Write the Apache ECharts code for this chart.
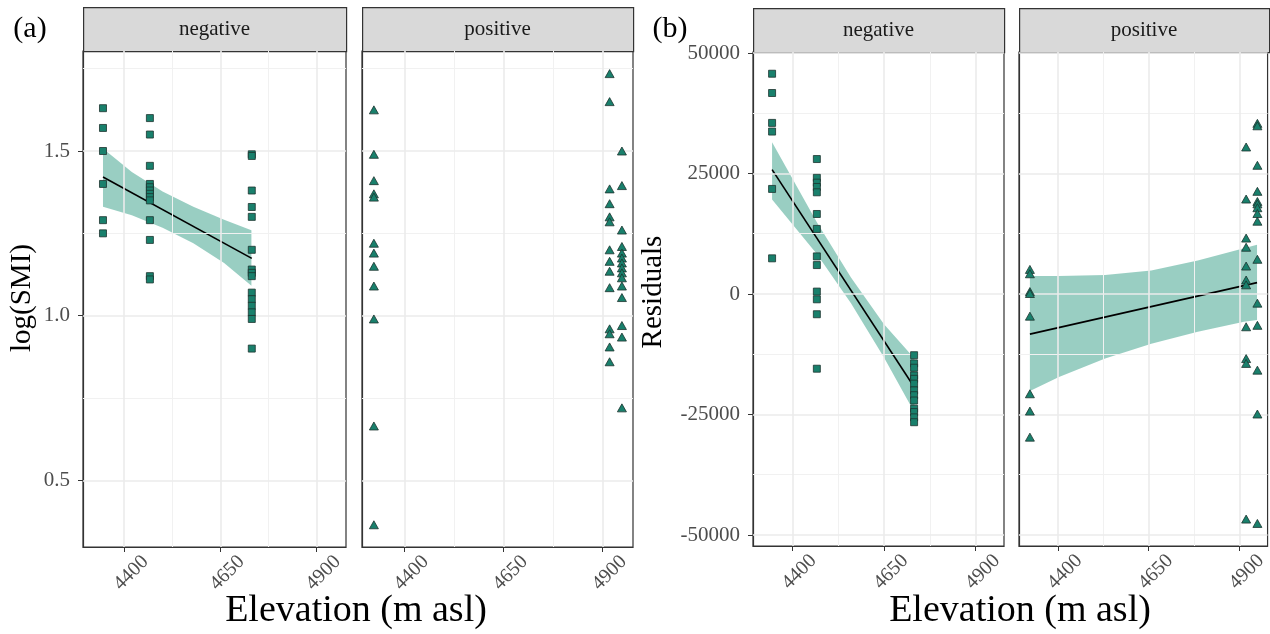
<!DOCTYPE html>
<html>
<head>
<meta charset="utf-8">
<script src="https://cdn.jsdelivr.net/npm/echarts@6/dist/echarts.min.js"></script>
<style>
  html, body { margin: 0; padding: 0; background: #fff; }
  #chart { width: 1270px; height: 634px; }
</style>
</head>
<body>
<div id="chart"></div>
<script>
// axis ticks
const xRange = [4293, 4977];
const xTicks = [4400, 4650, 4900];
const xMinor = [4525, 4775];
const smiRange = [0.2975, 1.8037];
const smiTicks = [0.5, 1.0, 1.5];
const smiMinor = [0.75, 1.25, 1.75];
const resRange = [-52284, 50208];
const resTicks = [-50000, -25000, 0, 25000, 50000];
const resMinor = [-37500, -12500, 12500, 37500];

// elevations of the sites
const negElev = [4345, 4467, 4732];
const posElev = [4323, 4918, 4949];

// (a) log(SMI)
const smiNeg1 = [1.63, 1.57, 1.50, 1.40, 1.29, 1.25];
const smiNeg2 = [1.60, 1.55, 1.455, 1.40, 1.39, 1.38, 1.37, 1.36, 1.35, 1.29, 1.23, 1.12, 1.11];
const smiNeg3 = [1.49, 1.485, 1.38, 1.33, 1.30, 1.20, 1.14, 1.13, 1.12, 1.07, 1.05, 1.03, 1.01, 0.99, 0.90];
const smiPos1 = [1.625, 1.49, 1.41, 1.37, 1.36, 1.22, 1.19, 1.15, 1.09, 0.99, 0.665, 0.365];
const smiPos2 = [1.735, 1.65, 1.385, 1.34, 1.30, 1.285, 1.20, 1.165, 1.135, 1.085, 0.96, 0.945, 0.905, 0.86];
const smiPos3 = [1.50, 1.395, 1.26, 1.21, 1.19, 1.175, 1.16, 1.145, 1.13, 1.115, 1.09, 1.055, 0.97, 0.935, 0.72];

// (a) fit + band (negative only)
const smiFitX = [4345, 4732];
const smiFitY = [1.421, 1.174];
const smiBandX = [4345, 4420, 4500, 4580, 4660, 4731];
const smiBandLo = [1.331, 1.305, 1.267, 1.220, 1.160, 1.091];
const smiBandHi = [1.508, 1.436, 1.377, 1.331, 1.291, 1.259];

// (b) residuals
const resNeg1 = [45700, 41700, 35500, 33700, 21800, 7400];
const resNeg2 = [28000, 24100, 23100, 22200, 21100, 16600, 13500, 7800, 6000, 500, -1100, -4200, -15500];
const resNeg3 = [-12700, -14400, -15300, -16900, -17600, -18600, -20000, -21000, -22100, -23800, -24500, -25600, -26600];
const resPos1 = [5100, 4200, 500, 100, -4600, -20700, -24300, -29700];
const resPos2 = [30500, 19700, 11600, 9700, 5800, 2900, 1900, -6800, -13400, -14400, -46700];
const resPos3 = [35400, 34900, 26700, 21300, 19200, 18700, 17900, 16700, 15100, 7200, -1900, -6500, -15800, -24900, -47600];

// (b) fits + bands
const resNegFitX = [4345, 4733];
const resNegFitY = [25800, -19400];
const resNegBandX = [4345, 4467, 4560, 4650, 4733];
const resNegBandLo = [19600, 8300, -1900, -13200, -24600];
const resNegBandHi = [31500, 14900, 3400, -6300, -13400];
const resPosFitX = [4323, 4948];
const resPosFitY = [-8330, 2360];
const resPosBandX = [4323, 4403, 4530, 4657, 4785, 4912, 4948];
const resPosBandLo = [-20100, -17200, -13400, -10300, -7850, -5760, -5420];
const resPosBandHi = [3750, 3750, 3960, 4860, 6940, 9510, 10200];

const FONT = 'Liberation Serif';
const ptColor = '#19806c';
const ptBorder = '#1d332e';
const bandColor = 'rgba(38,150,125,0.47)';

const panels = [
  { left: 83, top: 51, width: 263, height: 496, y: 'smi' },
  { left: 362, top: 51, width: 271, height: 496, y: 'smi' },
  { left: 753, top: 52, width: 251, height: 494, y: 'res' },
  { left: 1019, top: 52, width: 250, height: 494, y: 'res' }
];
const strips = ['negative', 'positive', 'negative', 'positive'];

function pts(x, ys) { return ys.map(v => [x, v]); }

function scatter(i, data, shape) {
  return {
    type: 'scatter', xAxisIndex: i, yAxisIndex: i, z: 5,
    symbol: shape, symbolSize: shape === 'rect' ? 7 : [9, 8],
    itemStyle: { color: ptColor, borderColor: ptBorder, borderWidth: 0.8, opacity: 1 },
    data: data
  };
}

function band(i, xs, lo, hi) {
  return {
    type: 'custom', xAxisIndex: i, yAxisIndex: i, z: 3, silent: true,
    data: [[xs[0], lo[0]]],
    renderItem: function (params, api) {
      const up = xs.map((x, k) => api.coord([x, hi[k]]));
      const dn = xs.map((x, k) => api.coord([x, lo[k]])).reverse();
      return { type: 'polygon', shape: { points: up.concat(dn) }, style: { fill: bandColor } };
    }
  };
}

function fit(i, xs, ys) {
  return {
    type: 'line', xAxisIndex: i, yAxisIndex: i, z: 4, symbol: 'none',
    lineStyle: { color: '#000', width: 1.6 },
    data: xs.map((x, k) => [x, ys[k]])
  };
}

function gridLines(i, yMajor, yMinor) {
  const major = { color: '#ebebeb', width: 1.6, type: 'solid' };
  const minor = { color: '#f1f1f1', width: 1, type: 'solid' };
  return {
    type: 'scatter', xAxisIndex: i, yAxisIndex: i, z: 1, silent: true, data: [],
    markLine: {
      silent: true, symbol: ['none', 'none'], label: { show: false }, animation: false,
      data: [].concat(
        xMinor.map(v => ({ xAxis: v, lineStyle: minor })),
        yMinor.map(v => ({ yAxis: v, lineStyle: minor })),
        xTicks.map(v => ({ xAxis: v, lineStyle: major })),
        yMajor.map(v => ({ yAxis: v, lineStyle: major }))
      )
    }
  };
}

const grids = panels.map(p => ({
  left: p.left, top: p.top, width: p.width, height: p.height,
  show: true, backgroundColor: '#fff', borderColor: '#333', borderWidth: 1.2
}));

const xAxes = panels.map((p, i) => ({
  type: 'value', gridIndex: i, min: xRange[0], max: xRange[1],
  axisLine: { show: true, onZero: false, lineStyle: { color: '#333', width: 1.2 } },
  splitLine: { show: false },
  axisTick: { show: true, length: 5, customValues: xTicks, lineStyle: { color: '#333' } },
  axisLabel: {
    customValues: xTicks, rotate: 45, align: 'center', verticalAlign: 'middle',
    padding: [0, 0, 0, 20], margin: 33,
    fontFamily: FONT, fontSize: 20, color: '#4d4d4d',
    formatter: v => String(v)
  }
}));

const yAxes = panels.map((p, i) => {
  const isSmi = p.y === 'smi';
  const ticks = isSmi ? smiTicks : resTicks;
  const rng = isSmi ? smiRange : resRange;
  return {
    type: 'value', gridIndex: i, min: rng[0], max: rng[1],
    axisLine: { show: true, onZero: false, lineStyle: { color: '#333', width: 1.2 } },
    splitLine: { show: false },
    axisTick: { show: i === 0 || i === 2, length: 5, customValues: ticks, lineStyle: { color: '#333' } },
    axisLabel: {
      show: i === 0 || i === 2, customValues: ticks, margin: 13,
      fontFamily: FONT, fontSize: 21, color: '#4d4d4d',
      formatter: v => isSmi ? v.toFixed(1) : String(Math.round(v))
    }
  };
});

const series = [
  gridLines(0, smiTicks, smiMinor),
  gridLines(1, smiTicks, smiMinor),
  gridLines(2, resTicks, resMinor),
  gridLines(3, resTicks, resMinor),
  band(0, smiBandX, smiBandLo, smiBandHi),
  fit(0, smiFitX, smiFitY),
  scatter(0, pts(negElev[0], smiNeg1).concat(pts(negElev[1], smiNeg2), pts(negElev[2], smiNeg3)), 'rect'),
  scatter(1, pts(posElev[0], smiPos1).concat(pts(posElev[1], smiPos2), pts(posElev[2], smiPos3)), 'triangle'),
  band(2, resNegBandX, resNegBandLo, resNegBandHi),
  fit(2, resNegFitX, resNegFitY),
  scatter(2, pts(negElev[0], resNeg1).concat(pts(negElev[1], resNeg2), pts(negElev[2], resNeg3)), 'rect'),
  band(3, resPosBandX, resPosBandLo, resPosBandHi),
  fit(3, resPosFitX, resPosFitY),
  scatter(3, pts(posElev[0], resPos1).concat(pts(posElev[1], resPos2), pts(posElev[2], resPos3)), 'triangle')
];

// facet strips, panel tags and axis titles
const graphic = [];
panels.forEach((p, i) => {
  graphic.push({
    type: 'rect', left: p.left, top: p.top - 44,
    shape: { width: p.width, height: 44 },
    style: { fill: '#d9d9d9', stroke: '#333', lineWidth: 1.2 }
  });
  graphic.push({
    type: 'text', x: p.left + p.width / 2, y: p.top - 22,
    style: { text: strips[i], fontFamily: FONT, fontSize: 21, fill: '#1a1a1a', align: 'center', verticalAlign: 'middle' }
  });
});
graphic.push(
  { type: 'text', x: 30, y: 29, style: { text: '(a)', fontFamily: FONT, fontSize: 30, fill: '#000', align: 'center', verticalAlign: 'middle' } },
  { type: 'text', x: 670, y: 29, style: { text: '(b)', fontFamily: FONT, fontSize: 30, fill: '#000', align: 'center', verticalAlign: 'middle' } },
  { type: 'text', x: 356, y: 611, style: { text: 'Elevation (m asl)', fontFamily: FONT, fontSize: 38, fill: '#000', align: 'center', verticalAlign: 'middle' } },
  { type: 'text', x: 1020, y: 611, style: { text: 'Elevation (m asl)', fontFamily: FONT, fontSize: 38, fill: '#000', align: 'center', verticalAlign: 'middle' } },
  { type: 'text', x: 22, y: 298, rotation: Math.PI / 2, style: { text: 'log(SMI)', fontFamily: FONT, fontSize: 29, fill: '#000', align: 'center', verticalAlign: 'middle' } },
  { type: 'text', x: 653, y: 292, rotation: Math.PI / 2, style: { text: 'Residuals', fontFamily: FONT, fontSize: 29, fill: '#000', align: 'center', verticalAlign: 'middle' } }
);

const chart = echarts.init(document.getElementById('chart'));
chart.setOption({
  animation: false,
  backgroundColor: '#fff',
  grid: grids,
  xAxis: xAxes,
  yAxis: yAxes,
  series: series,
  graphic: graphic
});
</script>
</body>
</html>
